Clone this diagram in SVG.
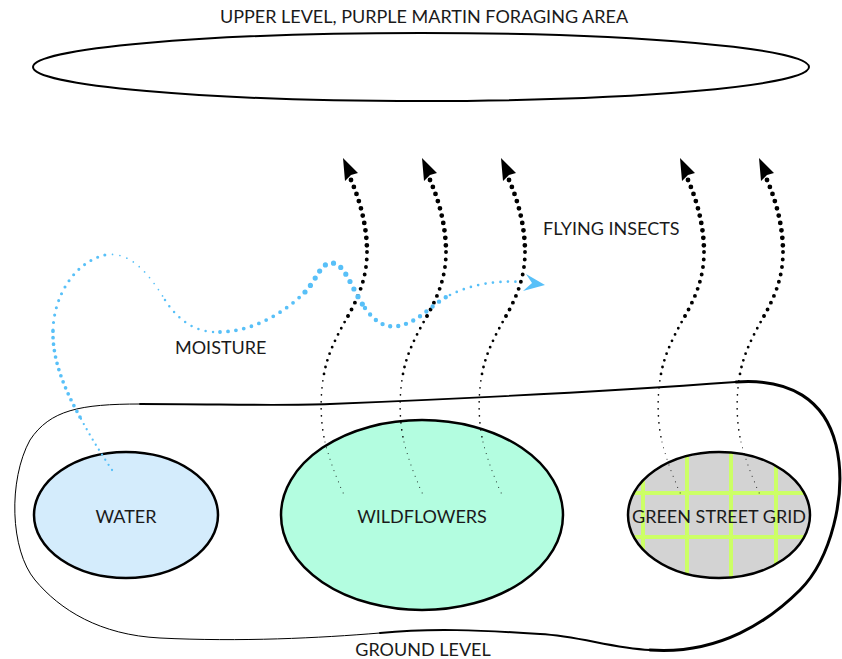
<svg xmlns="http://www.w3.org/2000/svg" xmlns:xlink="http://www.w3.org/1999/xlink" width="842" height="659" viewBox="0 0 842 659">
<style>
text{font-family:Lato,"Open Sans","Liberation Sans",sans-serif;fill:#1a1a1a;font-size:18px;}
.c{text-anchor:middle;}
.ell{stroke:#000;stroke-width:2.5;}
.blob{fill:none;stroke:#000;stroke-linecap:round;stroke-linejoin:round;}
.d{fill:none;stroke:#000;stroke-linecap:round;}
.m{fill:none;stroke:#58c0f8;stroke-linecap:round;}
.grid{stroke:#ccff66;stroke-width:4;}
</style>
<defs>
<clipPath id="gclip"><ellipse cx="719" cy="515" rx="91" ry="63"/></clipPath>
<g id="insect">
<path class="d" d="M351,180 C361,203 367,228 367,252" stroke-width="4.8" stroke-dasharray="0 7.5"/>
<path class="d" d="M367,252 C367,278 358,298 348,316" stroke-width="3.9" stroke-dasharray="0 7.5"/>
<path class="d" d="M348,316 C338,334 328,352 324,374" stroke-width="2.8" stroke-dasharray="0 7"/>
<path class="d" d="M324,374 C320,395 320,420 325,442" stroke-width="1.7" stroke-dasharray="0 7"/>
<path class="d" d="M325,442 C330,462 338,482 345,497" stroke="#666" stroke-width="1" stroke-dasharray="0 6"/>
<polygon points="343,158 358,173 351,175 345,181" fill="#000"/>
</g>
</defs>

<g id="upper-level">
<ellipse cx="421" cy="67" rx="388" ry="34" fill="none" stroke="#000" stroke-width="2"/>
<text class="c" x="424" y="23" font-size="17.8">UPPER LEVEL, PURPLE MARTIN FORAGING AREA</text>
</g>

<g id="ground-level">
<path class="blob" stroke-width="1.8" d="M140,404 C220,404 280,406 330,404 C430,400 600,392 736,382"/>
<path class="blob" stroke-width="3" d="M736,382 C790,378 825,400 836,445 C848,495 830,560 800,590 C770,620 720,655 650,650"/>
<path class="blob" stroke-width="2" d="M650,650 C610,648 580,636 540,634 C480,630 430,628 380,633"/>
<path class="blob" stroke-width="1" stroke="#222" d="M380,633 C320,638 240,642 160,638 C100,635 60,610 35,580 C10,550 8,480 30,440 C50,410 80,404 140,404"/>
<text class="c" x="423" y="656">GROUND LEVEL</text>
</g>

<g id="water">
<ellipse class="ell" cx="126" cy="515" rx="92" ry="63" fill="#d4ecfc"/>
<text class="c" x="126" y="523">WATER</text>
</g>

<g id="wildflowers">
<ellipse class="ell" cx="422" cy="515" rx="141" ry="95" fill="#b3fde0"/>
<text class="c" x="422" y="523">WILDFLOWERS</text>
</g>

<g id="green-street-grid">
<ellipse cx="719" cy="515" rx="91" ry="63" fill="#d3d3d3"/>
<g clip-path="url(#gclip)" class="grid">
<line x1="643" y1="440" x2="643" y2="590"/>
<line x1="687" y1="440" x2="687" y2="590"/>
<line x1="731" y1="440" x2="731" y2="590"/>
<line x1="776" y1="440" x2="776" y2="590"/>
<line x1="620" y1="493" x2="820" y2="493"/>
<line x1="620" y1="537" x2="820" y2="537"/>
</g>
<ellipse class="ell" cx="719" cy="515" rx="91" ry="63" fill="none" stroke-width="2.2"/>
<text class="c" x="719" y="523">GREEN STREET GRID</text>
</g>

<g id="connectors">
<g id="insects-1"><use xlink:href="#insect"/></g>
<g id="insects-2"><use xlink:href="#insect" transform="translate(79,0)"/></g>
<g id="insects-3"><use xlink:href="#insect" transform="translate(158,0)"/></g>
<g id="insects-4"><use xlink:href="#insect" transform="translate(337,0)"/></g>
<g id="insects-5"><use xlink:href="#insect" transform="translate(416,0)"/></g>
<g id="moisture">
<path class="m" d="M112,470 C100,452 90,436 80,417" stroke-width="2.3" stroke-dasharray="0 6"/>
<path class="m" d="M80,417 C65,390 52,360 53,330" stroke-width="3.7" stroke-dasharray="0 6.5"/>
<path class="m" d="M53,330 C54,295 75,262 105,255" stroke-width="3.1" stroke-dasharray="0 7.5"/>
<path class="m" d="M105,255 C130,250 150,275 165,300" stroke-width="1.7" stroke-dasharray="0 7.5"/>
<path class="m" d="M165,300 C178,320 195,333 220,332" stroke-width="2.5" stroke-dasharray="0 7.5"/>
<path class="m" d="M220,332 C255,331 285,312 305,292" stroke-width="3.8" stroke-dasharray="0 8"/>
<path class="m" d="M305,292 C318,278 320,263 332,263 C345,263 352,290 365,308" stroke-width="5.2" stroke-dasharray="0 8.5"/>
<path class="m" d="M365,308 C375,322 385,328 398,326 C420,322 430,305 450,295" stroke-width="4.4" stroke-dasharray="0 8"/>
<path class="m" d="M450,295 C470,285 495,280 522,282" stroke-width="2.7" stroke-dasharray="0 7.5"/>
<polygon points="545,285 526,274 532,283 523,291" fill="#58c0f8"/>
</g>
</g>

<text x="543" y="235">FLYING INSECTS</text>
<text x="175" y="354">MOISTURE</text>
</svg>
